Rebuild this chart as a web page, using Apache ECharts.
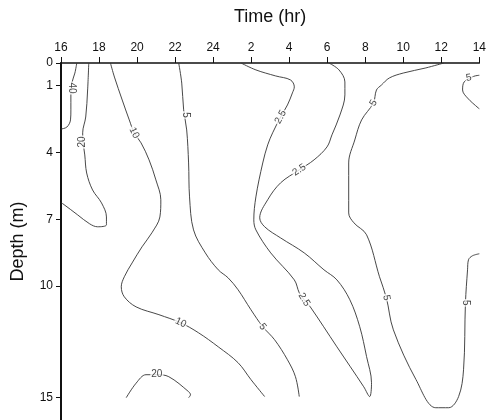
<!DOCTYPE html>
<html style="height: 100%">
<head>
  <meta charset="utf-8">
  <script src="https://cdn.jsdelivr.net/npm/echarts@6/dist/echarts.min.js"></script>
</head>
<body style="height: 100%; margin: 0; background: #fff">
  <div id="main" style="width: 489px; height: 420px"></div>
  <script type="text/javascript">
    // time runs past midnight: 24 -> 2 is stored as 26, etc.
    var yTicks = [0, 1, 4, 7, 10, 15];

    // contour lines, [time (hr, continuous), depth (m)]
    var c40 = [[16.83,0],[16.73,0.45],[16.57,0.9],[16.52,1.43],[16.52,2.1],[16.5,2.55],[16.31,2.87],[16.0,2.96]];
    var c20a = [[17.46,0],[17.4,1.21],[17.3,2.42],[17.14,3.13],[17.16,3.54],[17.25,4.12],[17.35,4.93],[17.66,5.69],[18.13,6.27],[18.39,6.9],[18.39,7.25],[17.92,7.34],[17.51,7.21],[16.88,6.81],[16.1,6.31],[16,6.27]];
    var c10 = [[18.6,0],[18.81,0.63],[19.22,1.66],[19.59,2.55],[19.85,3.13],[20.21,3.58],[20.63,4.34],[20.99,5.24],[21.25,6.13],[21.2,6.9],[20.78,7.61],[20.26,8.24],[19.74,8.96],[19.33,9.58],[19.17,10.03],[19.33,10.48],[19.95,10.93],[21.15,11.28],[22.29,11.64],[23.23,12.09],[24.27,12.72],[25.31,13.43],[25.99,14.19],[26.71,14.95]];
    var c5a = [[22.19,0],[22.35,0.9],[22.45,2.1],[22.61,3.0],[22.71,4.48],[22.76,6.0],[22.97,7.48],[23.59,8.51],[24.27,9.27],[24.79,9.63],[25.31,10.16],[25.99,11.06],[26.61,11.82],[27.23,12.4],[27.91,13.3],[28.33,14.06],[28.53,14.95]];
    var c25 = [[25.47,0],[26.25,0.31],[27.29,0.58],[28.07,0.76],[28.27,1.07],[28.17,1.34],[27.91,1.88],[27.55,2.42],[27.13,3.13],[26.87,3.67],[26.61,4.48],[26.25,6.0],[26.14,7.03],[26.25,7.48],[27.03,8.51],[28.27,9.72],[28.53,10.3],[28.79,10.61],[29.11,10.93],[30.51,12.72],[31.92,14.51],[32.23,14.95],[32.33,14.33],[32.07,13.16],[31.71,11.82],[31.19,10.61],[30.51,9.72],[29.83,9.27],[28.79,8.51],[27.55,7.84],[26.71,7.34],[26.45,6.94],[26.87,6.13],[27.55,5.37],[28.53,4.79],[29.31,4.34],[29.99,3.76],[30.25,3.22],[30.67,2.33],[30.93,1.43],[30.93,0.85],[30.62,0.31],[30.09,0]];
    var c5b = [[36.13,0],[35.19,0.22],[34.0,0.45],[33.27,0.67],[32.85,0.99],[32.59,1.21],[32.43,1.79],[31.81,2.55],[31.45,3.45],[31.13,4.48],[31.13,6.72],[31.4,7.16],[32.07,7.7],[32.75,9.58],[33.11,10.52],[33.48,11.96],[34.67,14.19],[35.71,15.45],[36.39,15.45],[36.91,14.95],[37.17,13.75],[37.27,10.75],[37.38,9.27],[37.43,8.82],[37.64,8.64],[38,8.55]];
    var c5c = [[38,0.55],[37.7,0.6],[37.2,0.85],[37.12,1.21],[37.38,1.57],[37.95,2.02],[38,2.05]];
    var c20b = [[19.43,15.0],[19.95,14.35],[20.47,13.97],[21.04,13.97],[21.67,14.06],[22.71,14.73],[22.81,14.87],[22.71,15.0]];

    // contour value labels
    var labelPos = [[16.57,1.12],[17.14,3.54],[19.85,3.13],[22.29,11.64],[22.55,2.33],[26.61,11.82],[27.55,2.42],[28.53,4.79],[28.79,10.61],[32.43,1.79],[33.11,10.52],[37.27,10.75],[21.04,13.97],[37.45,0.66]];
    var labelText = ['40','20','10','10','5','5','2.5','2.5','2.5','5','5','5','20','5'];
    var labelAngle = [-90, 90, -65, -25, -90, -52, 62, 34, -58, 60, -80, -90, 0, 10];

    var myChart = echarts.init(document.getElementById('main'));
    var font = 'Liberation Sans, Arial, sans-serif';

    var lines = [c40, c20a, c10, c5a, c25, c5b, c5c, c20b].map(function (d) {
      return {
        type: 'line',
        data: d,
        smooth: 0.35,
        showSymbol: false,
        silent: true,
        lineStyle: { color: '#333', width: 0.9 }
      };
    });

    var labelData = labelPos.map(function (p, i) {
      return { value: p, label: { rotate: labelAngle[i], formatter: labelText[i] } };
    });

    var option = {
      animation: false,
      grid: { left: 61, right: 5, top: 63, bottom: 0 },
      xAxis: {
        type: 'value',
        position: 'top',
        min: 16,
        max: 38,
        interval: 2,
        name: 'Time (hr)',
        nameLocation: 'middle',
        nameGap: 37,
        nameTextStyle: { fontSize: 18, color: '#111', fontFamily: font },
        axisLine: { lineStyle: { color: '#111', width: 1.6 } },
        axisTick: { length: 6, lineStyle: { color: '#111', width: 1 } },
        axisLabel: {
          margin: 9,
          fontSize: 12,
          color: '#111',
          fontFamily: font,
          showMaxLabel: true,
          formatter: function (v) { return v > 24 ? v - 24 : v; }
        },
        splitLine: { show: false }
      },
      yAxis: {
        type: 'value',
        inverse: true,
        min: 0,
        max: 16,
        name: 'Depth (m)',
        nameLocation: 'middle',
        nameGap: 34,
        nameTextStyle: { fontSize: 18, color: '#111', fontFamily: font },
        axisLine: { lineStyle: { color: '#111', width: 2 } },
        axisTick: { length: 5, customValues: yTicks, lineStyle: { color: '#111', width: 1 } },
        axisLabel: { margin: 8, fontSize: 12, color: '#111', fontFamily: font, customValues: yTicks },
        splitLine: { show: false }
      },
      series: lines.concat([{
        type: 'scatter',
        data: labelData,
        symbolSize: 0,
        silent: true,
        z: 5,
        label: {
          show: true,
          position: 'inside',
          fontSize: 10,
          color: '#111',
          fontFamily: font,
          backgroundColor: '#fff',
          padding: [0, 1]
        }
      }])
    };
    myChart.setOption(option);
  </script>
</body>
</html>
